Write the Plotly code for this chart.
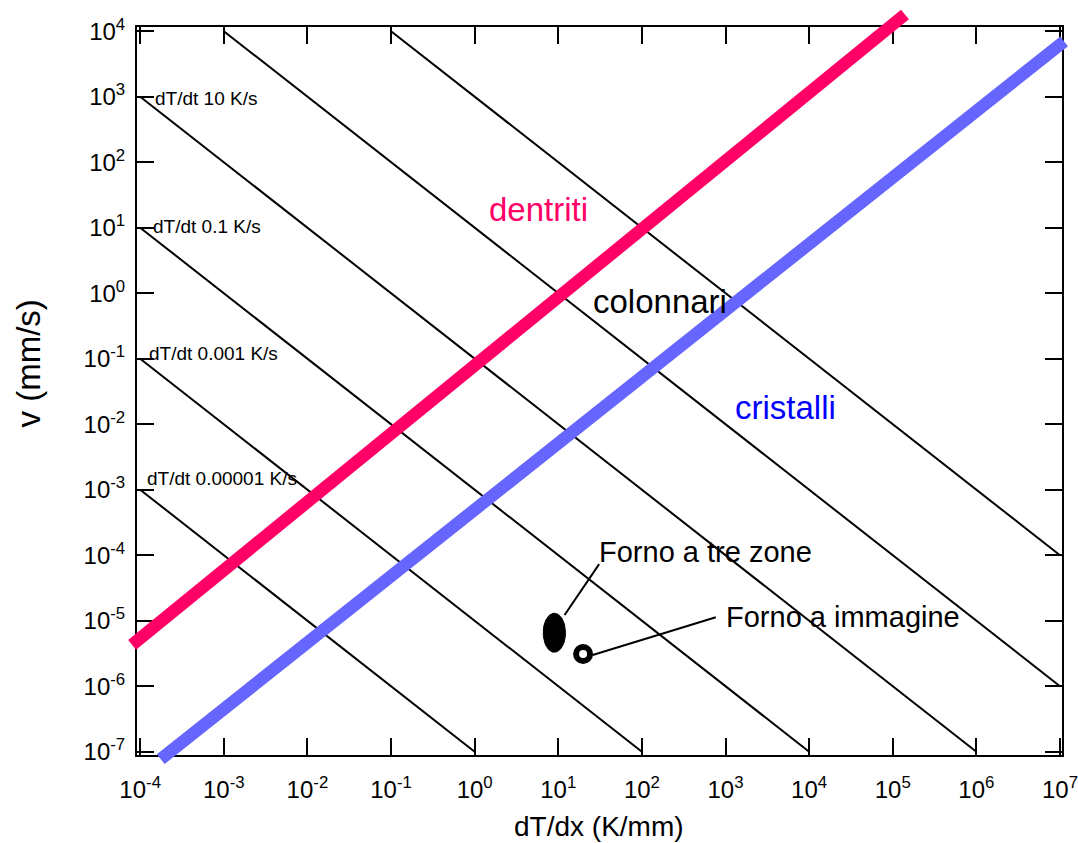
import numpy as np
import plotly.graph_objects as go

# ---- data -------------------------------------------------------------
# axis extents (decades)
grad_range_log = [-4.038, 7.024]      # dT/dx, K/mm
vel_range_log = [-7.05, 4.064]        # v, mm/s

# decade ticks
grad_tick_exp = list(range(-4, 8))
vel_tick_exp = list(range(-7, 5))
grad_tick_text = [f"10<sup>{e}</sup>" for e in grad_tick_exp]
vel_tick_text = [f"10<sup>{e}</sup>" for e in vel_tick_exp]

# constant cooling-rate isolines: v * dT/dx = const
iso_products = [1e-7, 1e-5, 1e-3, 1e-1, 1e1, 1e3]
iso_box_G = [1e-4, 1e7]
iso_box_v = [1e-7, 1e4]

# isoline captions and where they sit
iso_labels = ["dT/dt 10 K/s", "dT/dt 0.1 K/s", "dT/dt 0.001 K/s", "dT/dt 0.00001 K/s"]
iso_label_G = [1.44e-4, 1.36e-4, 1.2e-4, 1.156e-4]
iso_label_v = [925, 10.4, 0.1216, 1.5e-3]

# dendritic / columnar boundary
dend_G = [8.0e-5, 1.40e5]
dend_v = [4.27e-6, 1.80e4]
# columnar / single-crystal boundary
cryst_G = [1.76e-4, 1.12e7]
cryst_v = [7.7e-8, 7.0e3]

# furnaces
tre_zone_G = [6.6, 12.2]        # span of the operating window
tre_zone_v = [3.3e-6, 1.3e-5]
immagine_G = [19.8]
immagine_v = [3.1e-6]

# callout leader lines (start at the mark, end at the caption)
lead_tre_G = [11.9, 30.8]
lead_tre_v = [1.22e-5, 7.3e-5]
lead_img_G = [25.8, 766]
lead_img_v = [3.0e-6, 1.13e-5]

# region names
region_names = ["dentriti", "colonnari", "cristalli"]
region_G = [5.83, 163.7, 5272]
region_v = [18.9, 0.755, 0.0181]
region_colors = ["#FF0066", "#000000", "#0000FF"]

RED = "#FF0066"
BLUE = "#6666FF"
FONT = "Liberation Sans, Arial, sans-serif"

# ---- layout geometry ---------------------------------------------------
W, H = 1078, 843
ml, mr, mt, mb = 120, 6, 4, 70
pw, ph = W - ml - mr, H - mt - mb
frame_l, frame_r, frame_t, frame_b = 137, 1062, 27, 755

xdom = [(frame_l - ml) / pw, (frame_r - ml) / pw]
ydom = [(H - mb - frame_b) / ph, (H - mb - frame_t) / ph]

# wider invisible axes sharing the same scale so the thick boundaries
# can run past the frame
xppu = (frame_r - frame_l) / (grad_range_log[1] - grad_range_log[0])
yppu = (frame_b - frame_t) / (vel_range_log[1] - vel_range_log[0])
x2_range = [grad_range_log[0] - (frame_l - ml) / xppu,
            grad_range_log[1] + (W - mr - frame_r) / xppu]
y2_range = [vel_range_log[0] - (H - mb - frame_b) / yppu,
            vel_range_log[1] + (frame_t - mt) / yppu]

fig = go.Figure()

# isolines
for p in iso_products:
    g0 = max(iso_box_G[0], p / iso_box_v[1])
    g1 = min(iso_box_G[1], p / iso_box_v[0])
    fig.add_trace(go.Scatter(x=[g0, g1], y=[p / g0, p / g1], mode="lines",
                             line=dict(color="black", width=2),
                             hoverinfo="skip", showlegend=False))

# furnace "tre zone" window as a filled ellipse in log space
t = np.linspace(0, 2 * np.pi, 80)
cx = np.mean(np.log10(tre_zone_G)); rx = np.diff(np.log10(tre_zone_G))[0] / 2
cy = np.mean(np.log10(tre_zone_v)); ry = np.diff(np.log10(tre_zone_v))[0] / 2
fig.add_trace(go.Scatter(x=10 ** (cx + rx * np.cos(t)), y=10 ** (cy + ry * np.sin(t)),
                         mode="lines", fill="toself", fillcolor="black",
                         line=dict(color="black", width=1),
                         hoverinfo="skip", showlegend=False))

# furnace "immagine"
fig.add_trace(go.Scatter(x=immagine_G, y=immagine_v, mode="markers",
                         marker=dict(symbol="circle-open", size=14, color="black",
                                     line=dict(color="black", width=6)),
                         hoverinfo="skip", showlegend=False))

# leader lines
for gx, vy in [(lead_tre_G, lead_tre_v), (lead_img_G, lead_img_v)]:
    fig.add_trace(go.Scatter(x=gx, y=vy, mode="lines",
                             line=dict(color="black", width=2),
                             hoverinfo="skip", showlegend=False))

# thick boundaries on the wider axes
fig.add_trace(go.Scatter(x=dend_G, y=dend_v, mode="lines", xaxis="x2", yaxis="y2",
                         line=dict(color=RED, width=12.5),
                         hoverinfo="skip", showlegend=False))
fig.add_trace(go.Scatter(x=cryst_G, y=cryst_v, mode="lines", xaxis="x2", yaxis="y2",
                         line=dict(color=BLUE, width=12.5),
                         hoverinfo="skip", showlegend=False))

axis_common = dict(type="log", showgrid=False, zeroline=False, automargin=False,
                   showline=True, linecolor="black", linewidth=2,
                   mirror="allticks", ticks="inside", ticklen=17,
                   tickwidth=2, tickcolor="black",
                   ticklabeloverflow="allow",
                   tickfont=dict(family=FONT, size=24, color="black"))

annotations = []
for txt, g, v in zip(iso_labels, iso_label_G, iso_label_v):
    annotations.append(dict(x=np.log10(g), y=np.log10(v), xref="x", yref="y",
                            text=txt, showarrow=False, xanchor="left", yanchor="middle",
                            font=dict(family=FONT, size=19, color="black")))
for txt, g, v, c in zip(region_names, region_G, region_v, region_colors):
    annotations.append(dict(x=np.log10(g), y=np.log10(v), xref="x", yref="y",
                            text=txt, showarrow=False, xanchor="center", yanchor="middle",
                            font=dict(family=FONT, size=33, color=c)))
annotations.append(dict(x=np.log10(29.4), y=np.log10(1.12e-4), xref="x", yref="y",
                        text="Forno a tre zone", showarrow=False,
                        xanchor="left", yanchor="middle",
                        font=dict(family=FONT, size=29, color="black")))
annotations.append(dict(x=np.log10(955), y=np.log10(1.16e-5), xref="x", yref="y",
                        text="Forno a immagine", showarrow=False,
                        xanchor="left", yanchor="middle",
                        font=dict(family=FONT, size=29, color="black")))
# axis titles
annotations.append(dict(x=(599 - ml) / pw, y=(H - mb - 826) / ph, xref="paper", yref="paper",
                        text="dT/dx (K/mm)", showarrow=False,
                        xanchor="center", yanchor="middle",
                        font=dict(family=FONT, size=28, color="black")))
annotations.append(dict(x=(27.5 - ml) / pw, y=(H - mb - 364) / ph, xref="paper", yref="paper",
                        text="v (mm/s)", showarrow=False, textangle=-90,
                        xanchor="center", yanchor="middle",
                        font=dict(family=FONT, size=33, color="black")))

fig.update_layout(
    width=W, height=H,
    margin=dict(l=ml, r=mr, t=mt, b=mb, autoexpand=False),
    paper_bgcolor="white", plot_bgcolor="rgba(0,0,0,0)",
    showlegend=False,
    xaxis=dict(domain=xdom, range=grad_range_log, anchor="y",
               tickvals=[10.0 ** e for e in grad_tick_exp], ticktext=grad_tick_text,
               ticklabelstandoff=12, **axis_common),
    yaxis=dict(domain=ydom, range=vel_range_log, anchor="x",
               tickvals=[10.0 ** e for e in vel_tick_exp], ticktext=vel_tick_text,
               ticklabelstandoff=5, **axis_common),
    xaxis2=dict(type="log", domain=[0, 1], range=x2_range, anchor="y2",
                visible=False, automargin=False),
    yaxis2=dict(type="log", domain=[0, 1], range=y2_range, anchor="x2",
                visible=False, automargin=False),
    annotations=annotations,
)

fig.write_html("out.html")
